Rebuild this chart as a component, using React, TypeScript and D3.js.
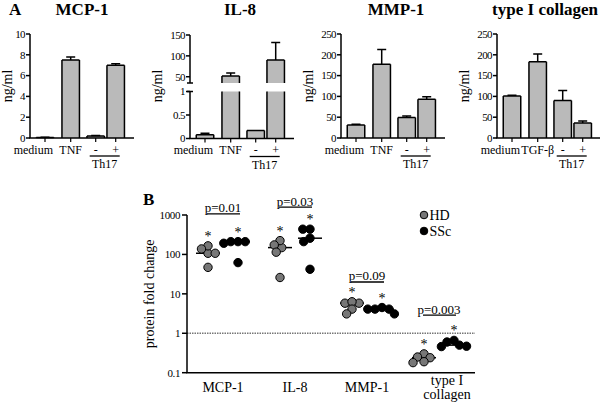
import React from "react";
import * as d3 from "d3";

const FONT = "'Liberation Serif','Times New Roman',Times,serif";

// ---------- Panel A data ----------
const panelTitles = ["MCP-1", "IL-8", "MMP-1", "type I collagen"];
const stimLabels = ["medium", "TNF", "-", "+"];
const stimLabelsCollagen = ["medium", "TGF-β", "-", "+"];
const groupLabel = "Th17";
const yLabelA = "ng/ml";

const mcp1Means = [0.05, 7.5, 0.2, 7.0];
const mcp1Sem = [0.02, 0.3, 0.05, 0.15];
const il8Means = [0.08, 52, 0.17, 90];
const il8Sem = [0.03, 7, 0, 42];
const mmp1Means = [31, 177, 49, 93];
const mmp1Sem = [2, 36, 4, 6];
const collagenMeans = [101, 183, 90, 36];
const collagenSem = [2, 19, 24, 5];

const mcp1Ticks = [0, 2, 4, 6, 8, 10];
const il8LowTicks = [0, 0.5, 1];
const il8HighTicks = [50, 100, 150];
const mmp1Ticks = [0, 50, 100, 150, 200, 250];
const collagenTicks = [0, 50, 100, 150, 200, 250];

// ---------- Panel B data ----------
const catsB = ["MCP-1", "IL-8", "MMP-1", "type I collagen"];
const catLabelsB = [["MCP-1"], ["IL-8"], ["MMP-1"], ["type I", "collagen"]];
const groupsB = ["HD", "SSc"];
const hdValues = [
  [107, 165, 107, 138, 47],
  [149, 224, 174, 114, 26],
  [5.8, 5.8, 6.3, 4.1, 3.1],
  [0.3, 0.25, 0.24, 0.19, 0.18],
];
const sscValues = [
  [211, 211, 192, 211, 62],
  [258, 437, 437, 211, 42],
  [4.1, 4.5, 4.1, 4.1, 3.1],
  [0.47, 0.6, 0.66, 0.46, 0.5],
];
const pLabels = ["p=0.01", "p=0.03", "p=0.09", "p=0.003"];
const pLevels = [1070, 1580, 20, 2.9];
const yTicksB = [0.1, 1, 10, 100, 1000];
const yLabelB = "protein fold change";

// ---------- layout ----------
const TOP = 34;
const BOT = 138;
const panelAxisX = [30, 190, 341, 497];
const titleCenters = [82, 240, 396, 545];
const barOffsets = [15, 40.7, 65.7, 85.7];
const AXIS_LEN = 104;
const HW = 8.75;
const GRAY_BAR = "#bababa";
const HD_FILL = "#777777";

type Seg = { domain: [number, number]; range: [number, number]; ticks: number[] };

function fmt(v: number) {
  return String(v);
}

function BarPanel(props: {
  ax: number;
  tx: number;
  title: string;
  labels: string[];
  means: number[];
  sems: number[];
  segs: Seg[];
}) {
  const { ax, tx, title, labels, means, sems, segs } = props;
  const pos = d3
    .scaleOrdinal<string, number>()
    .domain(labels)
    .range(barOffsets.map((d) => ax + d));
  const scales = segs.map((s) => d3.scaleLinear().domain(s.domain).range(s.range));
  const yBase = scales[0](0);
  const xs = labels.map((l) => pos(l));
  const els: React.ReactNode[] = [];

  labels.forEach((lab, i) => {
    const x = pos(lab);
    const v = means[i];
    segs.forEach((seg, j) => {
      const s = scales[j];
      const [d0, d1] = seg.domain;
      if (j > 0 && v <= d0) return;
      if (j === 0 && v <= 0) return;
      const yb = j === 0 ? s(0) : seg.range[0];
      const yt = s(Math.min(v, d1));
      els.push(
        <rect key={`f${i}-${j}`} x={x - HW} y={yt} width={2 * HW} height={yb - yt} fill={GRAY_BAR} />
      );
      let dpath = `M${x - HW},${yb}V${yt}M${x + HW},${yb}V${yt}`;
      if (v <= d1) dpath += `M${x - HW},${yt}H${x + HW}`;
      els.push(<path key={`e${i}-${j}`} d={dpath} stroke="#000" strokeWidth={1.5} fill="none" />);
      if (v <= d1 && v >= d0 && sems[i] > 0) {
        const ye = s(v + sems[i]);
        els.push(
          <path
            key={`err${i}`}
            d={`M${x},${yt}V${ye}M${x - 4.5},${ye}H${x + 4.5}`}
            stroke="#000"
            strokeWidth={1.5}
            fill="none"
          />
        );
      }
    });
  });

  segs.forEach((seg, j) => {
    const s = scales[j];
    els.push(
      <line key={`ya${j}`} x1={ax} x2={ax} y1={seg.range[0]} y2={seg.range[1]} stroke="#000" strokeWidth={1.5} />
    );
    seg.ticks.forEach((t) => {
      els.push(
        <line key={`yt${j}-${t}`} x1={ax - 4} x2={ax} y1={s(t)} y2={s(t)} stroke="#000" strokeWidth={1.5} />
      );
      els.push(
        <text
          key={`yl${j}-${t}`}
          x={ax - 5}
          y={s(t)}
          dy="0.35em"
          textAnchor="end"
          fontSize={11}
          letterSpacing={-0.6}
          fontFamily={FONT}
        >
          {fmt(t)}
        </text>
      );
    });
    if (segs.length > 1) {
      const yy = j === 0 ? seg.range[1] : seg.range[0];
      els.push(
        <line key={`br${j}`} x1={ax - 3} x2={ax + 3} y1={yy} y2={yy} stroke="#000" strokeWidth={1.5} />
      );
    }
  });

  els.push(<line key="xa" x1={ax - 0.75} x2={ax + AXIS_LEN} y1={yBase} y2={yBase} stroke="#000" strokeWidth={1.5} />);
  xs.forEach((x, i) =>
    els.push(<line key={`xt${i}`} x1={x} x2={x} y1={yBase} y2={yBase + 4} stroke="#000" strokeWidth={1.2} />)
  );
  labels.forEach((lab, i) => {
    const x = pos(lab);
    const isFirst = i === 0;
    els.push(
      <text
        key={`xl${i}`}
        x={isFirst ? x + 8 : x}
        y={yBase + 15.5}
        textAnchor={isFirst ? "end" : "middle"}
        fontSize={12}
        fontFamily={FONT}
      >
        {lab}
      </text>
    );
  });
  const gx1 = pos(labels[2]) - 6;
  const gx2 = pos(labels[3]) + 4;
  els.push(<line key="gl" x1={gx1} x2={gx2} y1={yBase + 18} y2={yBase + 18} stroke="#000" strokeWidth={1.3} />);
  els.push(
    <text key="gt" x={(gx1 + gx2) / 2} y={yBase + 30} textAnchor="middle" fontSize={12} fontFamily={FONT}>
      {groupLabel}
    </text>
  );
  const ly = (TOP + BOT) / 2;
  const lx = ax - (ax < 100 ? 18 : 28);
  els.push(
    <text
      key="ylab"
      transform={`translate(${lx},${ly}) rotate(-90)`}
      textAnchor="middle"
      fontSize={14}
      fontFamily={FONT}
    >
      {yLabelA}
    </text>
  );
  els.push(
    <text key="title" x={tx} y={15} textAnchor="middle" fontSize={17} fontWeight="bold" fontFamily={FONT}>
      {title}
    </text>
  );
  return <g>{els}</g>;
}

function swarm(values: number[], y: (v: number) => number, d: number): number[] {
  const placed: { x: number; y: number }[] = [];
  const order = values.map((_, i) => i).sort((a, b) => values[b] - values[a]);
  const xs = new Array(values.length).fill(0);
  for (const i of order) {
    const yi = y(values[i]);
    const intervals = placed
      .filter((p) => Math.abs(p.y - yi) < d)
      .map((p) => {
        const w = Math.sqrt(d * d - (p.y - yi) * (p.y - yi));
        return [p.x - w, p.x + w];
      });
    const cands = [0, ...intervals.flat()].sort((a, b) => Math.abs(a) - Math.abs(b) || a - b);
    const x = cands.find((c) => intervals.every(([a, b]) => c <= a + 1e-6 || c >= b - 1e-6)) ?? 0;
    xs[i] = x;
    placed.push({ x, y: yi });
  }
  return xs;
}

function PanelB() {
  const x = d3.scalePoint<string>().domain(catsB).range([187, 475]).padding(0.5);
  const y = d3.scaleLog().domain([0.1, 1000]).range([372.7, 215]);
  const g = d3.scalePoint<string>().domain(groupsB).range([-15, 15]);
  const R = 4.2;
  const els: React.ReactNode[] = [];
  const x0 = 187;
  const x1 = 475;
  const yb = y(0.1);

  els.push(
    <line key="ref" x1={x0} x2={x1} y1={y(1)} y2={y(1)} stroke="#777" strokeWidth={1.4} strokeDasharray="1.5,1" />
  );

  catsB.forEach((c, ci) => {
    const cx = x(c)!;
    [hdValues[ci], sscValues[ci]].forEach((vals, gi) => {
      const gcx = cx + g(groupsB[gi])!;
      const offs = swarm(vals, (v) => y(v), 7.2);
      const med = d3.median(vals)!;
      els.push(
        <line
          key={`m${ci}-${gi}`}
          x1={gcx - 12}
          x2={gcx + 12}
          y1={y(med)}
          y2={y(med)}
          stroke="#000"
          strokeWidth={1.5}
        />
      );
      vals.forEach((v, k) => {
        els.push(
          <circle
            key={`d${ci}-${gi}-${k}`}
            cx={gcx + offs[k]}
            cy={y(v)}
            r={R}
            fill={gi === 0 ? HD_FILL : "#000"}
            stroke="#000"
            strokeWidth={1}
          />
        );
      });
      const top = y(d3.max(vals)!);
      els.push(
        <text key={`s${ci}-${gi}`} x={gcx} y={top - 5} textAnchor="middle" fontSize={14} fontFamily={FONT} fill="#000">
          *
        </text>
      );
    });
    const py = y(pLevels[ci]);
    els.push(
      <line key={`pl${ci}`} x1={cx - 16} x2={cx + 17} y1={py} y2={py} stroke="#000" strokeWidth={1.3} />
    );
    els.push(
      <text key={`pt${ci}`} x={cx} y={py - 1.5} textAnchor="middle" fontSize={13} fontFamily={FONT}>
        {pLabels[ci]}
      </text>
    );
    const lines = catLabelsB[ci];
    lines.forEach((ln, li) =>
      els.push(
        <text
          key={`cl${ci}-${li}`}
          x={cx + (lines.length > 1 ? 8 : 0)}
          y={lines.length > 1 ? 384.5 + li * 14.5 : 392}
          textAnchor="middle"
          fontSize={14}
          fontFamily={FONT}
        >
          {ln}
        </text>
      )
    );
  });

  els.push(<line key="ya" x1={x0} x2={x0} y1={y(1000)} y2={yb} stroke="#000" strokeWidth={1.5} />);
  els.push(<line key="xa" x1={x0 - 0.75} x2={x1} y1={yb} y2={yb} stroke="#000" strokeWidth={1.5} />);
  yTicksB.forEach((t) => {
    els.push(<line key={`t${t}`} x1={x0 - 5} x2={x0} y1={y(t)} y2={y(t)} stroke="#000" strokeWidth={1.5} />);
    els.push(
      <text
        key={`tl${t}`}
        x={x0 - 7}
        y={y(t)}
        dy="0.35em"
        textAnchor="end"
        fontSize={11}
        letterSpacing={-0.4}
        fontFamily={FONT}
      >
        {String(t)}
      </text>
    );
  });
  els.push(
    <text
      key="ylab"
      transform={`translate(${154},${(y(1000) + yb) / 2}) rotate(-90)`}
      textAnchor="middle"
      fontSize={14}
      fontFamily={FONT}
    >
      {yLabelB}
    </text>
  );
  groupsB.forEach((gname, gi) => {
    els.push(
      <circle
        key={`lg${gi}`}
        cx={424}
        cy={215 + gi * 16}
        r={3.8}
        fill={gi === 0 ? HD_FILL : "#000"}
        stroke="#000"
        strokeWidth={1}
      />
    );
    els.push(
      <text key={`lt${gi}`} x={429.5} y={215 + gi * 16 + 4.5} fontSize={14} fontFamily={FONT}>
        {gname}
      </text>
    );
  });
  return <g>{els}</g>;
}

export default function App() {
  const linearSeg = (max: number, ticks: number[]): Seg[] => [
    { domain: [0, max], range: [BOT, TOP], ticks },
  ];
  const il8Segs: Seg[] = [
    { domain: [0, 1], range: [138.5, 91.5], ticks: il8LowTicks },
    { domain: [35, 150], range: [83, 35], ticks: il8HighTicks },
  ];
  const meansList = [mcp1Means, il8Means, mmp1Means, collagenMeans];
  const semList = [mcp1Sem, il8Sem, mmp1Sem, collagenSem];
  const segList = [
    linearSeg(10, mcp1Ticks),
    il8Segs,
    linearSeg(250, mmp1Ticks),
    linearSeg(250, collagenTicks),
  ];
  return (
    <svg
      width={600}
      height={407}
      viewBox="0 0 600 407"
      style={{ position: "absolute", left: 0, top: 0, background: "#fff" }}
    >
      <rect width={600} height={407} fill="#fff" />
      <text x={9} y={15} fontSize={17} fontWeight="bold" fontFamily={FONT}>
        A
      </text>
      <text x={143} y={205} fontSize={17} fontWeight="bold" fontFamily={FONT}>
        B
      </text>
      {panelTitles.map((t, i) => (
        <BarPanel
          key={t}
          ax={panelAxisX[i]}
          tx={titleCenters[i]}
          title={t}
          labels={i === 3 ? stimLabelsCollagen : stimLabels}
          means={meansList[i]}
          sems={semList[i]}
          segs={segList[i]}
        />
      ))}
      <PanelB />
    </svg>
  );
}
